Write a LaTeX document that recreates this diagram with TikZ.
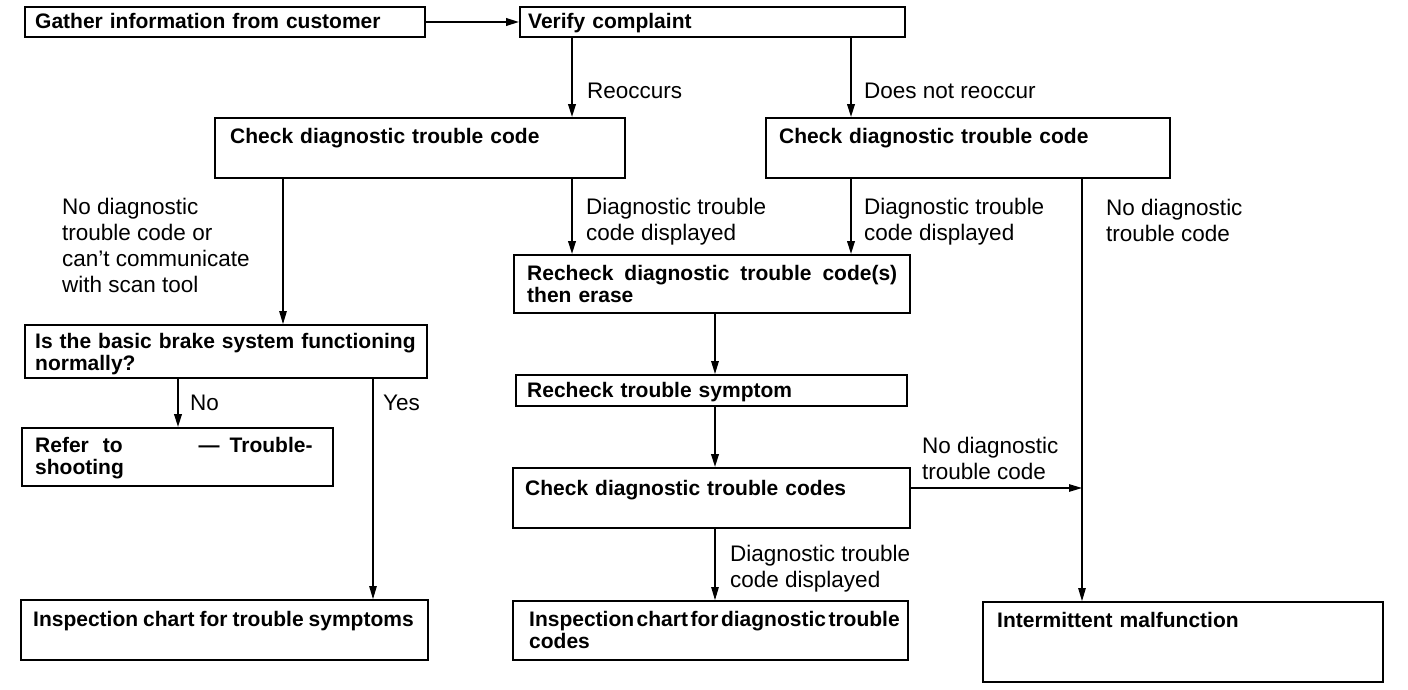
\documentclass[tikz,border=0pt]{standalone}
\usepackage{fontspec}
\setmainfont{Liberation Sans}
\usetikzlibrary{arrows.meta}
\newcommand\mywsp{\spaceskip=7pt plus 3pt\relax}
\newcommand\mywsn{\spaceskip=5pt plus 3pt\relax}
\newcommand\mywst{\spaceskip=2.5pt plus 1pt\relax}
\begin{document}
\begin{tikzpicture}[x=1pt,y=-1pt,
  box/.style={draw, line width=1.8pt, inner sep=0pt},
  btxt/.style={font=\fontsize{21}{22.5}\selectfont\bfseries\mywsp, inner sep=0pt, anchor=north west, align=left},
  lbl/.style={font=\fontsize{22.5}{26}\selectfont, inner sep=0pt, anchor=north west, align=left},
  tip/.style={-{Triangle[length=13pt,width=7.5pt]}},
  thk/.style={line width=2pt},
  thn/.style={line width=1.1pt}]
\useasboundingbox (0,0) rectangle (1408,690);
% boxes
\node[box, minimum width=400pt, minimum height=30pt] (gather) at (225,22) {};
\node[box, minimum width=385pt, minimum height=30pt] (verify) at (712.5,22) {};
\node[box, minimum width=410pt, minimum height=60pt] (cdtcA) at (420,148) {};
\node[box, minimum width=404pt, minimum height=60pt] (cdtcB) at (968,148) {};
\node[box, minimum width=402pt, minimum height=53pt] (basic) at (226,351.5) {};
\node[box, minimum width=311pt, minimum height=58pt] (refer) at (177.5,457) {};
\node[box, minimum width=407pt, minimum height=60pt] (inspsym) at (224.5,630) {};
\node[box, minimum width=396pt, minimum height=58pt] (recheck) at (712,284) {};
\node[box, minimum width=391pt, minimum height=31pt] (symptom) at (711.5,390.5) {};
\node[box, minimum width=397pt, minimum height=60pt] (cdtcs) at (711.5,498) {};
\node[box, minimum width=395pt, minimum height=59pt] (inspdtc) at (710.5,630.5) {};
\node[box, minimum width=400pt, minimum height=80pt] (interm) at (1183,642) {};
% box texts
\node[btxt] (gatherT) at (35,13) {Gather information from customer};
\node[btxt] (verifyT) at (528,13) {Verify complaint};
\node[btxt] (cdtcAT) at (230,128) {Check diagnostic trouble code};
\node[btxt] (cdtcBT) at (779,128) {Check diagnostic trouble code};
\node[btxt] (basicT) at (35,333) {Is the basic brake system functioning\\normally?};
\node[btxt] (referT) at (35,437) {Refer\hspace{14pt}to\hspace{76pt}—\hspace{10pt}Trouble-\\shooting};
\node[btxt] (inspsymT) at (33,611) {\mywsn Inspection chart for trouble symptoms};
\node[btxt] (recheckT) at (527,265) {\makebox[370pt][s]{Recheck diagnostic trouble code(s)}\\then erase};
\node[btxt] (symptomT) at (527,382) {Recheck trouble symptom};
\node[btxt] (cdtcsT) at (525,480) {Check diagnostic trouble codes};
\node[btxt] (inspdtcT) at (529,611) {\mywst Inspection chart for diagnostic trouble\\codes};
\node[btxt] (intermT) at (997,612) {Intermittent malfunction};
% connector x positions
\coordinate (xa) at (572,0);
\coordinate (xb) at (851,0);
\coordinate (xc) at (283,0);
\coordinate (xd) at (1082,0);
\coordinate (xe) at (715,0);
\coordinate (xf) at (178,0);
\coordinate (xg) at (373,0);
\coordinate (yh) at (0,488);
% connectors
\draw[thk,tip] (gather) -- (verify);
\draw[thk,tip] (verify.south -| xa) -- (cdtcA.north -| xa);
\draw[thk,tip] (verify.south -| xb) -- (cdtcB.north -| xb);
\draw[thn,tip] (cdtcA.south -| xc) -- (basic.north -| xc);
\draw[thk,tip] (cdtcA.south -| xa) -- (recheck.north -| xa);
\draw[thk,tip] (cdtcB.south -| xb) -- (recheck.north -| xb);
\draw[thn,tip] (cdtcB.south -| xd) -- (interm.north -| xd);
\draw[line width=1.5pt,tip] (recheck.south -| xe) -- (symptom.north -| xe);
\draw[thk,tip] (symptom.south -| xe) -- (cdtcs.north -| xe);
\draw[thn,tip] (cdtcs.east |- yh) -- (xd |- yh);
\draw[thn,tip] (cdtcs.south -| xe) -- (inspdtc.north -| xe);
\draw[thk,tip] (basic.south -| xf) -- (refer.north -| xf);
\draw[thn,tip] (basic.south -| xg) -- (inspsym.north -| xg);
% labels
\node[lbl] (l1) at (587,83) {Reoccurs};
\node[lbl] (l2) at (864,83) {Does not reoccur};
\node[lbl] (l3) at (62,198) {No diagnostic\\trouble code or\\can't communicate\\with scan tool};
\node[lbl] (l4) at (586,198) {Diagnostic trouble\\code displayed};
\node[lbl] (l5) at (864,198) {Diagnostic trouble\\code displayed};
\node[lbl] (l6) at (1106,199) {No diagnostic\\trouble code};
\node[lbl] (l7) at (190,395) {No};
\node[lbl] (l8) at (383,395) {Yes};
\node[lbl] (l9) at (922,437) {No diagnostic\\trouble code};
\node[lbl] (l10) at (730,545) {Diagnostic trouble\\code displayed};
\end{tikzpicture}
\end{document}
